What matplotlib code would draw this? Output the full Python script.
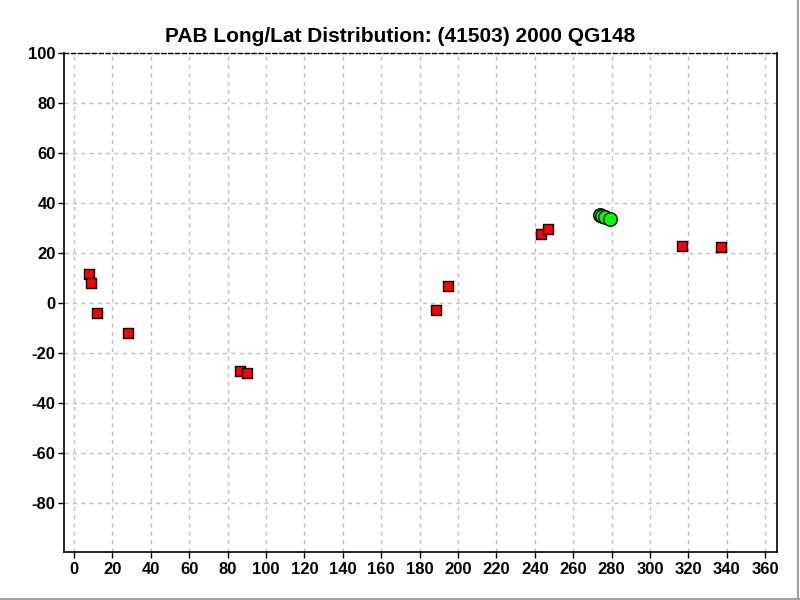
import matplotlib
matplotlib.use("Agg")
import matplotlib.pyplot as plt
from matplotlib.lines import Line2D

plt.rcParams['font.family'] = ['Liberation Sans', 'DejaVu Sans']
plt.rcParams['axes.unicode_minus'] = False

title = "PAB Long/Lat Distribution: (41503) 2000 QG148"

red_lon = [7.8, 8.8, 12.0, 28.1, 86.3, 90.0, 188.8, 195.0, 243.4, 247.0, 316.7, 337.0]
red_lat = [11.6, 8.0, -4.0, -12.0, -27.2, -28.0, -2.7, 6.8, 27.6, 29.6, 22.8, 22.4]

green_lon = [273.8, 275.2, 276.8, 279.2]
green_lat = [35.4, 35.0, 34.6, 33.7]

x_ticks = list(range(0, 361, 20))
y_ticks = list(range(-80, 101, 20))

fig = plt.figure(figsize=(8, 6), dpi=100)
ax = fig.add_axes([64/800, 1 - 552/600, (777-64)/800, (552-53)/600])

ax.scatter(red_lon, red_lat, marker='s', s=48, c='#ff0000', edgecolors='black',
           linewidths=1.0, zorder=3)
ax.scatter(green_lon, green_lat, marker='o', s=95, c='#00ff00', edgecolors='black',
           linewidths=1.0, zorder=4)

ax.set_xlim(-5.2, 366.2)
ax.set_ylim(-99.5, 100)
ax.set_xticks(x_ticks)
ax.set_yticks(y_ticks)
ax.grid(True, color='#c0c0c0', linestyle=(0, (3, 3)), linewidth=1.0)
ax.set_axisbelow(True)

for lab in ax.get_xticklabels() + ax.get_yticklabels():
    lab.set_fontweight('bold')
ax.tick_params(axis='both', direction='out', length=4, width=1, labelsize=12,
               color='black', pad=2)
ax.tick_params(axis='x', pad=3)

ax.spines['top'].set_linestyle((0, (3, 2)))
ax.spines['top'].set_linewidth(1.0)
for s in ['left', 'bottom', 'right']:
    ax.spines[s].set_linewidth(1.2)

fig.text(0.5, 1 - 36/600, title, ha='center', va='center', fontsize=15,
         fontweight='bold')

# window border lines
fig.add_artist(Line2D([0, 1], [1/600, 1/600], color='#a0a0a0', lw=1.5,
                      transform=fig.transFigure))
fig.add_artist(Line2D([1 - 2/800, 1 - 2/800], [0, 1], color='#a0a0a0', lw=1.5,
                      transform=fig.transFigure))

fig.savefig('out.png', dpi=100)
